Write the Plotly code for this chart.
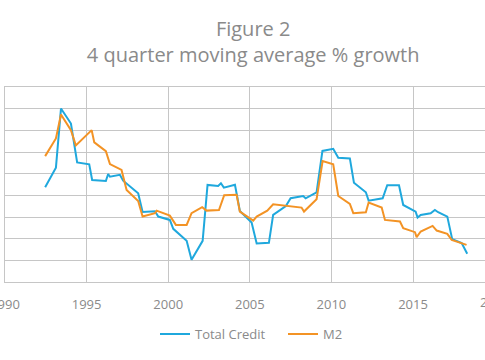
import plotly.graph_objects as go

# Total Credit (4-quarter moving average % growth)
credit_years = [1992.46, 1993.12, 1993.43, 1994.04, 1994.42, 1995.16, 1995.34, 1996.18, 1996.32,
                1996.43, 1997.04, 1997.24, 1998.16, 1998.43, 1999.19, 1999.39, 2000.10, 2000.31,
                2001.13, 2001.43, 2002.11, 2002.41, 2003.06, 2003.23, 2003.41, 2004.09, 2004.39,
                2005.11, 2005.42, 2006.17, 2006.43, 2007.21, 2007.50, 2008.27, 2008.42, 2009.09,
                2009.45, 2010.11, 2010.42, 2011.13, 2011.38, 2012.11, 2012.28, 2013.14, 2013.42,
                2014.14, 2014.40, 2015.16, 2015.28, 2015.47, 2016.08, 2016.34, 2016.54, 2017.10,
                2017.40, 2017.98, 2018.32]
credit_values = [8.74, 10.55, 16.01, 14.63, 11.04, 10.86, 9.42, 9.32, 9.97,
                 9.72, 9.90, 9.35, 8.19, 6.47, 6.53, 6.04, 5.73, 4.91,
                 3.80, 2.05, 3.80, 8.96, 8.86, 9.11, 8.71, 8.98, 6.56,
                 5.49, 3.55, 3.62, 6.19, 7.02, 7.73, 7.94, 7.73, 8.28,
                 12.10, 12.30, 11.47, 11.41, 9.17, 8.28, 7.51, 7.73, 8.93,
                 8.93, 7.11, 6.50, 5.95, 6.19, 6.35, 6.65, 6.44, 6.04,
                 3.96, 3.59, 2.60]

# M2 (4-quarter moving average % growth)
m2_years = [1992.46, 1993.12, 1993.43, 1994.04, 1994.34, 1995.31, 1995.47, 1996.18, 1996.43,
            1997.14, 1997.45, 1998.16, 1998.43, 1999.19, 1999.29, 2000.10, 2000.47, 2001.13,
            2001.43, 2002.08, 2002.35, 2003.11, 2003.43, 2004.19, 2004.39, 2005.21, 2005.42,
            2006.07, 2006.43, 2008.17, 2008.32, 2009.09, 2009.46, 2010.11, 2010.42, 2011.13,
            2011.34, 2012.11, 2012.28, 2013.08, 2013.28, 2014.20, 2014.40, 2015.12, 2015.22,
            2015.47, 2016.20, 2016.45, 2017.10, 2017.37, 2018.28]
m2_values = [11.62, 13.25, 15.46, 14.02, 12.61, 14.02, 12.89, 12.08, 10.89,
             10.34, 8.50, 7.48, 6.04, 6.35, 6.59, 6.13, 5.27, 5.27,
             6.35, 6.90, 6.59, 6.65, 8.01, 8.06, 6.50, 5.67, 6.04,
             6.59, 7.18, 6.87, 6.50, 7.64, 11.16, 10.86, 7.94, 7.21,
             6.35, 6.44, 7.33, 6.87, 5.73, 5.58, 4.97, 4.60, 4.14,
             4.66, 5.18, 4.75, 4.45, 3.89, 3.43]

x_ticks = [1990, 1995, 2000, 2005, 2010, 2015]

BLUE = "#1fa8dd"
ORANGE = "#f39325"
GRID = "#c6c6c6"
TEXT = "#8a8a8a"
FONT = "Open Sans"
X_END = 2019.41

fig = go.Figure()
fig.add_trace(go.Scatter(x=credit_years, y=credit_values, mode="lines", name="Total Credit",
                         line=dict(color=BLUE, width=2)))
fig.add_trace(go.Scatter(x=m2_years, y=m2_values, mode="lines", name="M2",
                         line=dict(color=ORANGE, width=2)))

fig.update_layout(
    width=485, height=360,
    margin=dict(l=5, r=0, t=87, b=78, autoexpand=False),
    paper_bgcolor="white", plot_bgcolor="white",
    font=dict(family=FONT, color=TEXT, size=13),
    title=dict(text="Figure 2<br>4 quarter moving average % growth",
               x=0.522, xanchor="center", y=0.90, yanchor="top",
               font=dict(family=FONT, size=20, color=TEXT)),
    showlegend=True,
    legend=dict(orientation="h", x=0.3125, xanchor="left", y=-0.19, yanchor="top",
                entrywidth=83, entrywidthmode="pixels",
                font=dict(family=FONT, size=13, color=TEXT)),
    xaxis=dict(range=[1990, X_END], tickmode="array", tickvals=x_ticks,
               ticktext=[str(t) for t in x_ticks], ticklabeloverflow="allow",
               ticklabelstandoff=10, automargin=False,
               showgrid=True, gridcolor=GRID, gridwidth=1, zeroline=False,
               showline=True, linecolor=GRID, linewidth=1, mirror=True,
               ticks="", tickfont=dict(family=FONT, size=13, color=TEXT)),
    yaxis=dict(range=[0, 18], dtick=2, showticklabels=False, automargin=False,
               showgrid=True, gridcolor=GRID, gridwidth=1, zeroline=False,
               showline=True, linecolor=GRID, linewidth=1, ticks=""),
)
fig.add_annotation(text="2020", xref="paper", yref="paper",
                   x=(2020 - 1990) / (X_END - 1990), y=0, xanchor="center",
                   yanchor="middle", yshift=-20,
                   showarrow=False, font=dict(family=FONT, size=13, color=TEXT))

fig.write_html("out.html", config={"displayModeBar": False},
               post_script="document.body.style.margin='0';")
